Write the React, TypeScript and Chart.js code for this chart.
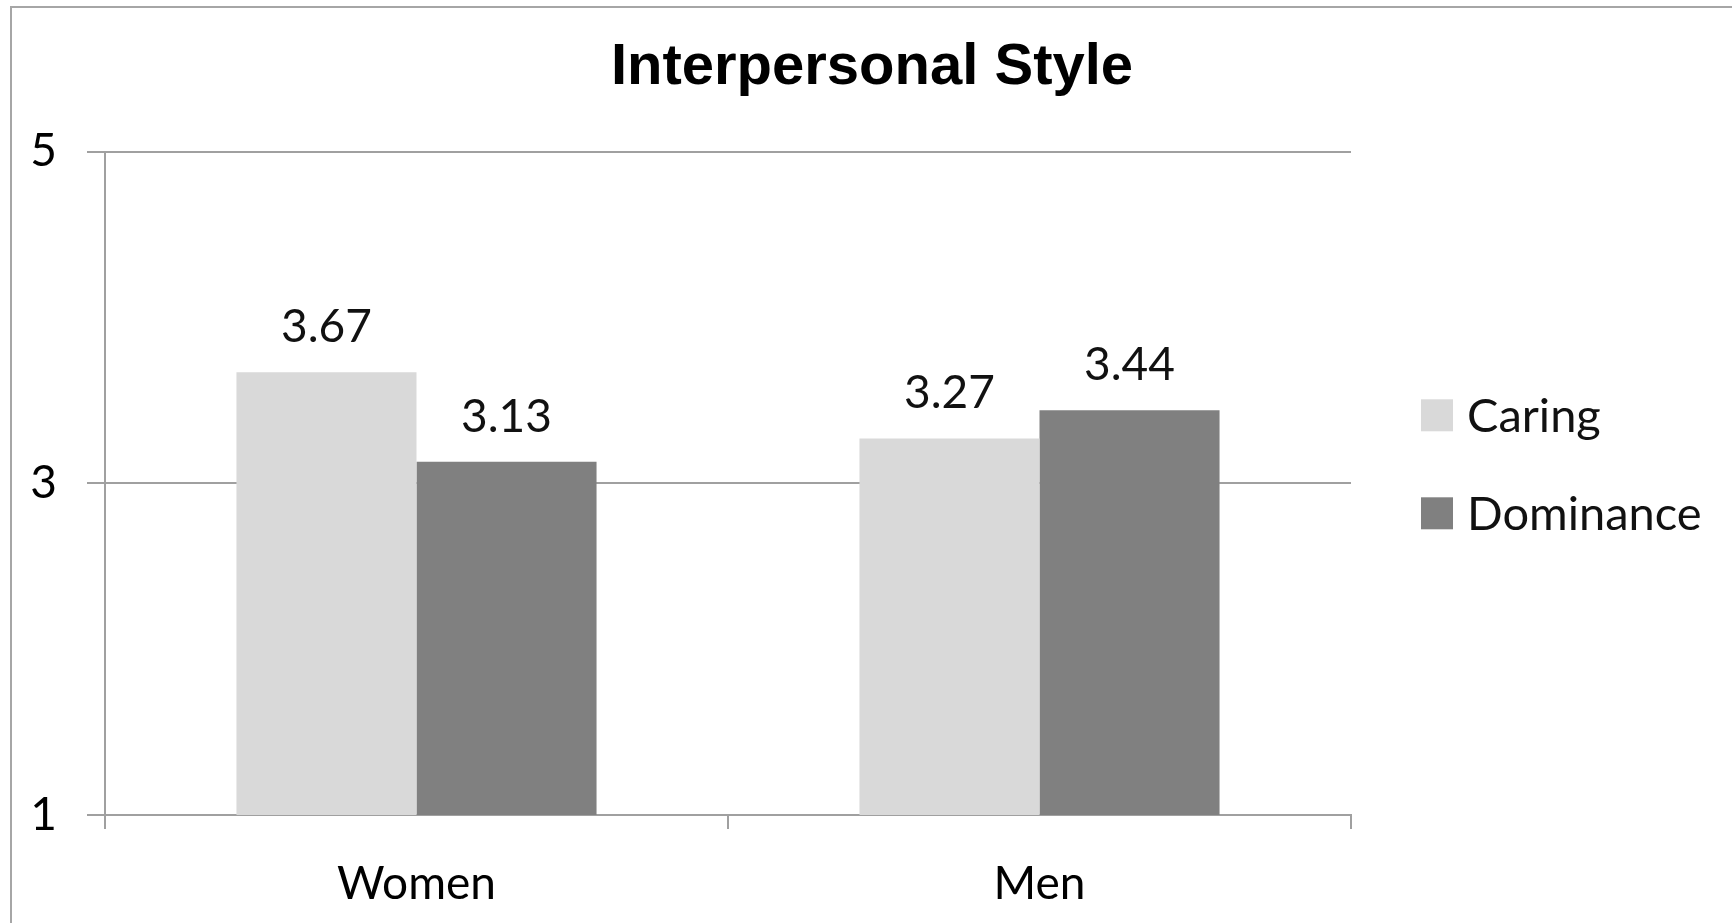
import React, { useEffect, useRef } from "react";
import { Chart, registerables } from "chart.js";

Chart.register(...registerables);

const chartTitle = "Interpersonal Style";
const categories = ["Women", "Men"];
const seriesNames = ["Caring", "Dominance"];
const caringValues = [3.67, 3.27];
const dominanceValues = [3.13, 3.44];
const yTickValues = [1, 3, 5];
const seriesColors = ["#d9d9d9", "#808080"];

const W = 1732;
const H = 923;
const GRID = "#a0a0a0";
const LABEL_FONT = "Lato, 'Open Sans', sans-serif";

const framePlugin = {
  id: "frame",
  beforeDraw(chart: any) {
    const ctx = chart.ctx;
    ctx.save();
    ctx.fillStyle = "#ffffff";
    ctx.fillRect(0, 0, chart.width, chart.height);
    ctx.strokeStyle = "#a6a6a6";
    ctx.lineWidth = 2;
    ctx.strokeRect(11, 7, chart.width + 50, chart.height + 50);
    ctx.restore();
  },
};

const valueLabelPlugin = {
  id: "valueLabels",
  afterDatasetsDraw(chart: any) {
    const ctx = chart.ctx;
    ctx.save();
    ctx.font = `46px ${LABEL_FONT}`;
    ctx.fillStyle = "#111111";
    ctx.textAlign = "center";
    ctx.textBaseline = "middle";
    chart.data.datasets.forEach((ds: any, i: number) => {
      const meta = chart.getDatasetMeta(i);
      meta.data.forEach((bar: any, j: number) => {
        const v = ds.data[j] as number;
        ctx.fillText(v.toFixed(2), bar.x, bar.y - 45);
      });
    });
    ctx.restore();
  },
};

const sideLegendPlugin = {
  id: "sideLegend",
  afterDraw(chart: any) {
    const ctx = chart.ctx;
    const area = chart.chartArea;
    const boxX = area.right + 70;
    const midY = (area.top + area.bottom) / 2;
    const rowGap = 98;
    ctx.save();
    ctx.font = `47px ${LABEL_FONT}`;
    ctx.textAlign = "left";
    ctx.textBaseline = "middle";
    chart.data.datasets.forEach((ds: any, i: number) => {
      const cy = midY - 68 + i * rowGap;
      ctx.fillStyle = ds.backgroundColor;
      ctx.fillRect(boxX, cy - 16, 32, 32);
      ctx.fillStyle = "#111111";
      ctx.fillText(ds.label, boxX + 46, cy + 2);
    });
    ctx.restore();
  },
};

export default function App() {
  const canvasRef = useRef<HTMLCanvasElement | null>(null);

  useEffect(() => {
    document.body.style.margin = "0";
    const canvas = canvasRef.current;
    if (!canvas) return;
    const chart = new Chart(canvas, {
      type: "bar",
      data: {
        labels: categories,
        datasets: [
          {
            label: seriesNames[0],
            data: caringValues,
            backgroundColor: seriesColors[0],
            categoryPercentage: 0.578,
            barPercentage: 1,
            yAxisID: "y",
          },
          {
            label: seriesNames[1],
            data: dominanceValues,
            backgroundColor: seriesColors[1],
            categoryPercentage: 0.578,
            barPercentage: 1,
            yAxisID: "y",
          },
        ],
      },
      options: {
        responsive: false,
        animation: false,
        devicePixelRatio: 1,
        layout: { padding: { left: 12, right: 0, top: 0, bottom: 0 } },
        plugins: {
          legend: { display: false },
          tooltip: { enabled: false },
          title: {
            display: true,
            text: chartTitle,
            color: "#000000",
            font: { family: "'Liberation Sans', Arial, sans-serif", size: 58, weight: "bold", lineHeight: 1.2 },
            padding: { top: 33, bottom: 49 },
          },
        },
        scales: {
          x: {
            offset: true,
            grid: {
              offset: true,
              drawOnChartArea: false,
              drawTicks: true,
              tickLength: 14,
              color: GRID,
              lineWidth: 2,
            },
            border: { display: true, color: GRID, width: 2 },
            ticks: {
              color: "#000000",
              font: { family: LABEL_FONT, size: 46 },
              padding: 28,
            },
            afterFit: (s: any) => {
              s.height = 108;
            },
          },
          y: {
            position: "left",
            min: 1,
            max: 5,
            afterBuildTicks: (s: any) => {
              s.ticks = yTickValues.map((v) => ({ value: v }));
            },
            grid: {
              color: GRID,
              lineWidth: 2,
              drawTicks: true,
              tickLength: 18,
            },
            border: { display: true, color: GRID, width: 2 },
            ticks: {
              color: "#000000",
              font: { family: LABEL_FONT, size: 46 },
              padding: 30,
            },
            afterFit: (s: any) => {
              s.width = 93;
            },
          },
          spacer: {
            type: "linear",
            position: "right",
            display: true,
            grid: { display: false },
            border: { display: false },
            ticks: { display: false },
            afterFit: (s: any) => {
              s.width = 381;
            },
          },
        },
      },
      plugins: [framePlugin, valueLabelPlugin, sideLegendPlugin],
    } as any);
    return () => chart.destroy();
  }, []);

  return (
    <div style={{ width: W, height: H, overflow: "hidden" }}>
      <canvas ref={canvasRef} width={W} height={H} style={{ display: "block" }} />
    </div>
  );
}
